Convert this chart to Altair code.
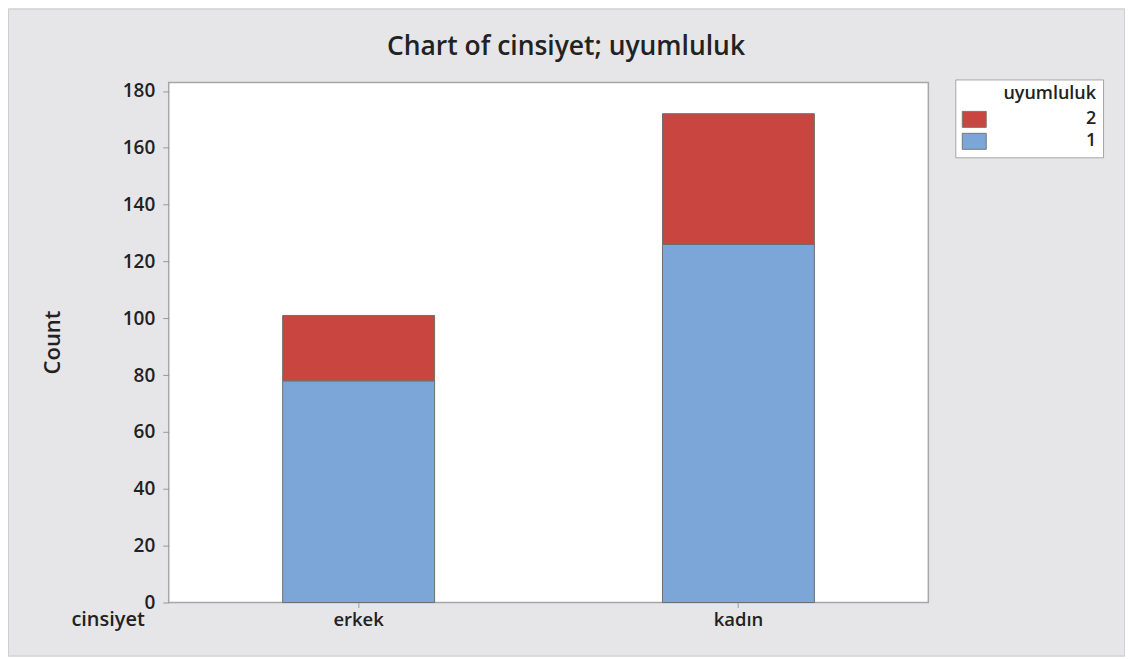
import altair as alt
import pandas as pd

categories = ["erkek", "kadın"]
count_1 = [78, 126]
count_2 = [23, 46]
groups = ["1", "2"]
y_ticks = [0, 20, 40, 60, 80, 100, 120, 140, 160, 180]

rows = []
for i, c in enumerate(categories):
    rows.append({"cinsiyet": c, "uyumluluk": "1", "Count": count_1[i]})
    rows.append({"cinsiyet": c, "uyumluluk": "2", "Count": count_2[i]})
df = pd.DataFrame(rows)

FONT = "Open Sans"
TXT = "#222222"

bars = alt.Chart(df).mark_bar(stroke="#6e6e6e", strokeWidth=1).encode(
    x=alt.X("cinsiyet:N", sort=categories,
            scale=alt.Scale(paddingInner=0.6, paddingOuter=0.3),
            axis=alt.Axis(title="cinsiyet", labelAngle=0, labelFontSize=18.5,
                          labelFontWeight=600, labelColor=TXT, labelFont=FONT,
                          tickSize=5, tickColor="#999999", labelPadding=3,
                          domain=False, titleFontSize=20, titleFontWeight=600,
                          titleFont=FONT, titleColor=TXT, titleX=-98, titleY=23,
                          titleAlign="left", titleAnchor="start",
                          titleBaseline="alphabetic")),
    y=alt.Y("Count:Q", stack="zero",
            scale=alt.Scale(domain=[0, 183], nice=False),
            axis=alt.Axis(title="Count", values=y_ticks, grid=False, domain=False,
                          labelFontSize=19, labelFontWeight=600, labelColor=TXT,
                          labelFont=FONT, tickSize=6, tickColor="#999999",
                          labelPadding=8, titleFontSize=22, titleFontWeight=600,
                          titleFont=FONT, titleColor=TXT, titleX=-116, titleY=260,
                          titleAlign="center", titleBaseline="middle")),
    color=alt.Color("uyumluluk:N",
                    scale=alt.Scale(domain=["2", "1"], range=["#C8463F", "#7BA6D7"]),
                    legend=alt.Legend(title="uyumluluk", orient="none",
                                      legendX=788, legendY=-3,
                                      fillColor="white", strokeColor="#a6a6a6",
                                      padding=6, titleFontSize=18,
                                      titleFontWeight=600, titleFont=FONT,
                                      titleColor=TXT, titleAnchor="end",
                                      titlePadding=7,
                                      symbolType="M-1,-1H2V1H-1Z",
                                      symbolSize=256, symbolStrokeColor="#777777",
                                      symbolStrokeWidth=1, symbolOpacity=1,
                                      labelFontSize=18, labelFontWeight=600,
                                      labelFont=FONT, labelColor=TXT,
                                      labelExpr="datum.label + ' '",
                                      labelOffset=107, rowPadding=2)),
    order=alt.Order("uyumluluk:N", sort="ascending"),
)

frame = alt.Chart(pd.DataFrame({"a": [0]})).mark_rect(
    fill="transparent", stroke="#cfcfcf", strokeWidth=1
).encode(
    x=alt.value(-160.5), x2=alt.value(957.5),
    y=alt.value(-73.5), y2=alt.value(574.5),
)

chart = alt.layer(frame, bars).properties(
    width=761, height=521,
    autosize=alt.AutoSizeParams(type="none"),
    padding={"left": 161, "top": 74, "right": 197, "bottom": 54},
    background="#e6e6e8",
    title=alt.TitleParams("Chart of cinsiyet; uyumluluk", fontSize=26.5,
                          fontWeight=600, font=FONT, color=TXT, anchor="middle",
                          frame="group", dx=17.5, dy=73, offset=0,
                          baseline="alphabetic"),
).configure_view(fill="white", stroke="#a6a6a6", strokeWidth=1.5)

chart.save("out.html", embed_options={"renderer": "svg", "actions": False})
